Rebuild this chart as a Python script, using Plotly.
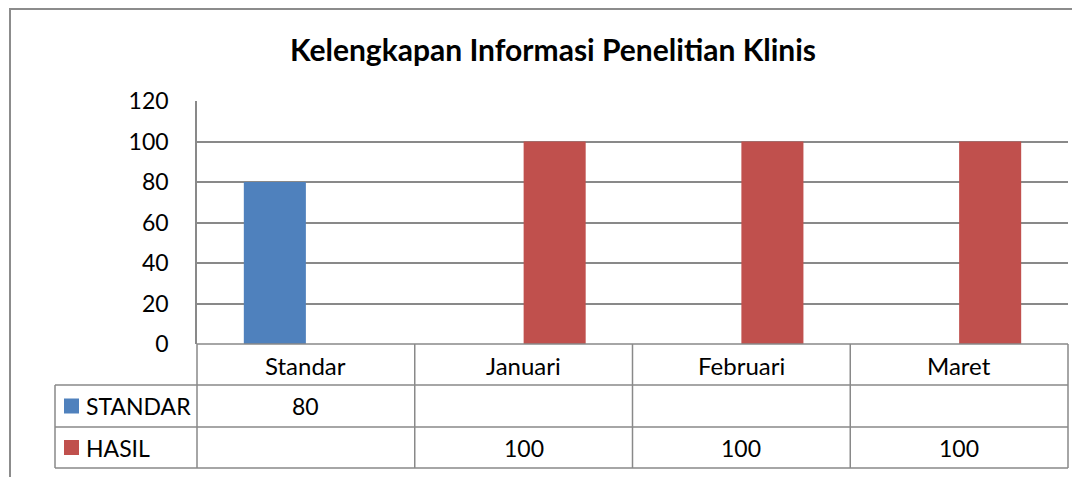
import plotly.graph_objects as go

categories = ["Standar", "Januari", "Februari", "Maret"]
standar_values = [80, None, None, None]
hasil_values = [None, 100, 100, 100]
series_names = ["STANDAR", "HASIL"]
series_colors = ["#4F81BD", "#C0504D"]
y_ticks = [0, 20, 40, 60, 80, 100, 120]

OFF = 8  # page body margin
W, H = 1080 - OFF, 477 - OFF
L, R, T, B = 197 - OFF, 1068 - OFF, 101 - OFF, 344 - OFF  # plot area in figure pixels
FONT = "Lato"
GRID = "#898989"


def px(x):
    # x given in screenshot pixels
    return (x - OFF - L) / (R - L)


def py(y):
    return (B - (y - OFF)) / (B - T)


fig = go.Figure()
for name, vals, col in zip(series_names, [standar_values, hasil_values], series_colors):
    fig.add_trace(go.Bar(x=categories, y=vals, name=name, marker_color=col,
                         marker_line_width=0, showlegend=False))

shapes = []
line = dict(color=GRID, width=1.5)
# outer chart border
shapes.append(dict(type="rect", xref="paper", yref="paper", x0=px(10), x1=px(1100),
                   y0=py(500), y1=py(9), line=dict(color="#8C8C8C", width=2)))
# table horizontal lines
row_y = [344, 385, 427, 468]
shapes.append(dict(type="line", xref="paper", yref="paper", x0=px(197), x1=px(1068),
                   y0=py(344), y1=py(344), line=line))
for yy in row_y[1:]:
    shapes.append(dict(type="line", xref="paper", yref="paper", x0=px(55), x1=px(1068),
                       y0=py(yy), y1=py(yy), line=line))
# table vertical lines
n = len(categories)
col_x = [197 + i * (1068 - 197) / n for i in range(n + 1)]
for xx in col_x:
    shapes.append(dict(type="line", xref="paper", yref="paper", x0=px(xx), x1=px(xx),
                       y0=py(344), y1=py(468), line=line))
shapes.append(dict(type="line", xref="paper", yref="paper", x0=px(55), x1=px(55),
                   y0=py(385), y1=py(468), line=line))
# legend keys
for i, col in enumerate(series_colors):
    yc = (row_y[i + 1] + row_y[i + 2]) / 2
    shapes.append(dict(type="rect", xref="paper", yref="paper", x0=px(64), x1=px(79),
                       y0=py(yc + 7.5), y1=py(yc - 7.5), fillcolor=col, line=dict(width=0)))

annotations = []
tf = dict(family=FONT, size=23, color="black")
cf = dict(family=FONT, size=24, color="black")
# header row category labels
for c in categories:
    annotations.append(dict(x=c, y=py(365), xref="x", yref="paper", text=c,
                            showarrow=False, font=cf, xanchor="center", yanchor="middle"))
# data rows
for i, (name, vals) in enumerate(zip(series_names, [standar_values, hasil_values])):
    yc = (row_y[i + 1] + row_y[i + 2]) / 2
    annotations.append(dict(x=px(84), y=py(yc), xref="paper", yref="paper", text=name,
                            showarrow=False, font=tf, xanchor="left", yanchor="middle"))
    for c, v in zip(categories, vals):
        if v is not None:
            annotations.append(dict(x=c, y=py(yc), xref="x", yref="paper", text=str(v),
                                    showarrow=False, font=tf, xanchor="center", yanchor="middle"))

fig.update_layout(
    width=W, height=H,
    margin=dict(l=L, r=W - R, t=T, b=H - B, pad=0),
    paper_bgcolor="white", plot_bgcolor="white",
    barmode="group", bargap=0.43, bargroupgap=0,
    title=dict(text="<b>Kelengkapan Informasi Penelitian Klinis</b>", xref="container", yref="container",
               x=(553 - OFF) / W, y=1 - (50 - OFF) / H, xanchor="center", yanchor="middle",
               font=dict(family=FONT, size=30, color="black")),
    xaxis=dict(showticklabels=False, showgrid=False, showline=False, zeroline=False,
               range=[-0.5, n - 0.5], fixedrange=True),
    yaxis=dict(range=[0, 120], tickvals=y_ticks, showgrid=True, gridcolor=GRID, gridwidth=1.5,
               showline=True, linecolor=GRID, linewidth=1.5, zeroline=False,
               tickfont=tf, ticklabelstandoff=22, ticks=""),
    shapes=shapes, annotations=annotations,
    font=dict(family=FONT),
)

fig.write_html("out.html")
